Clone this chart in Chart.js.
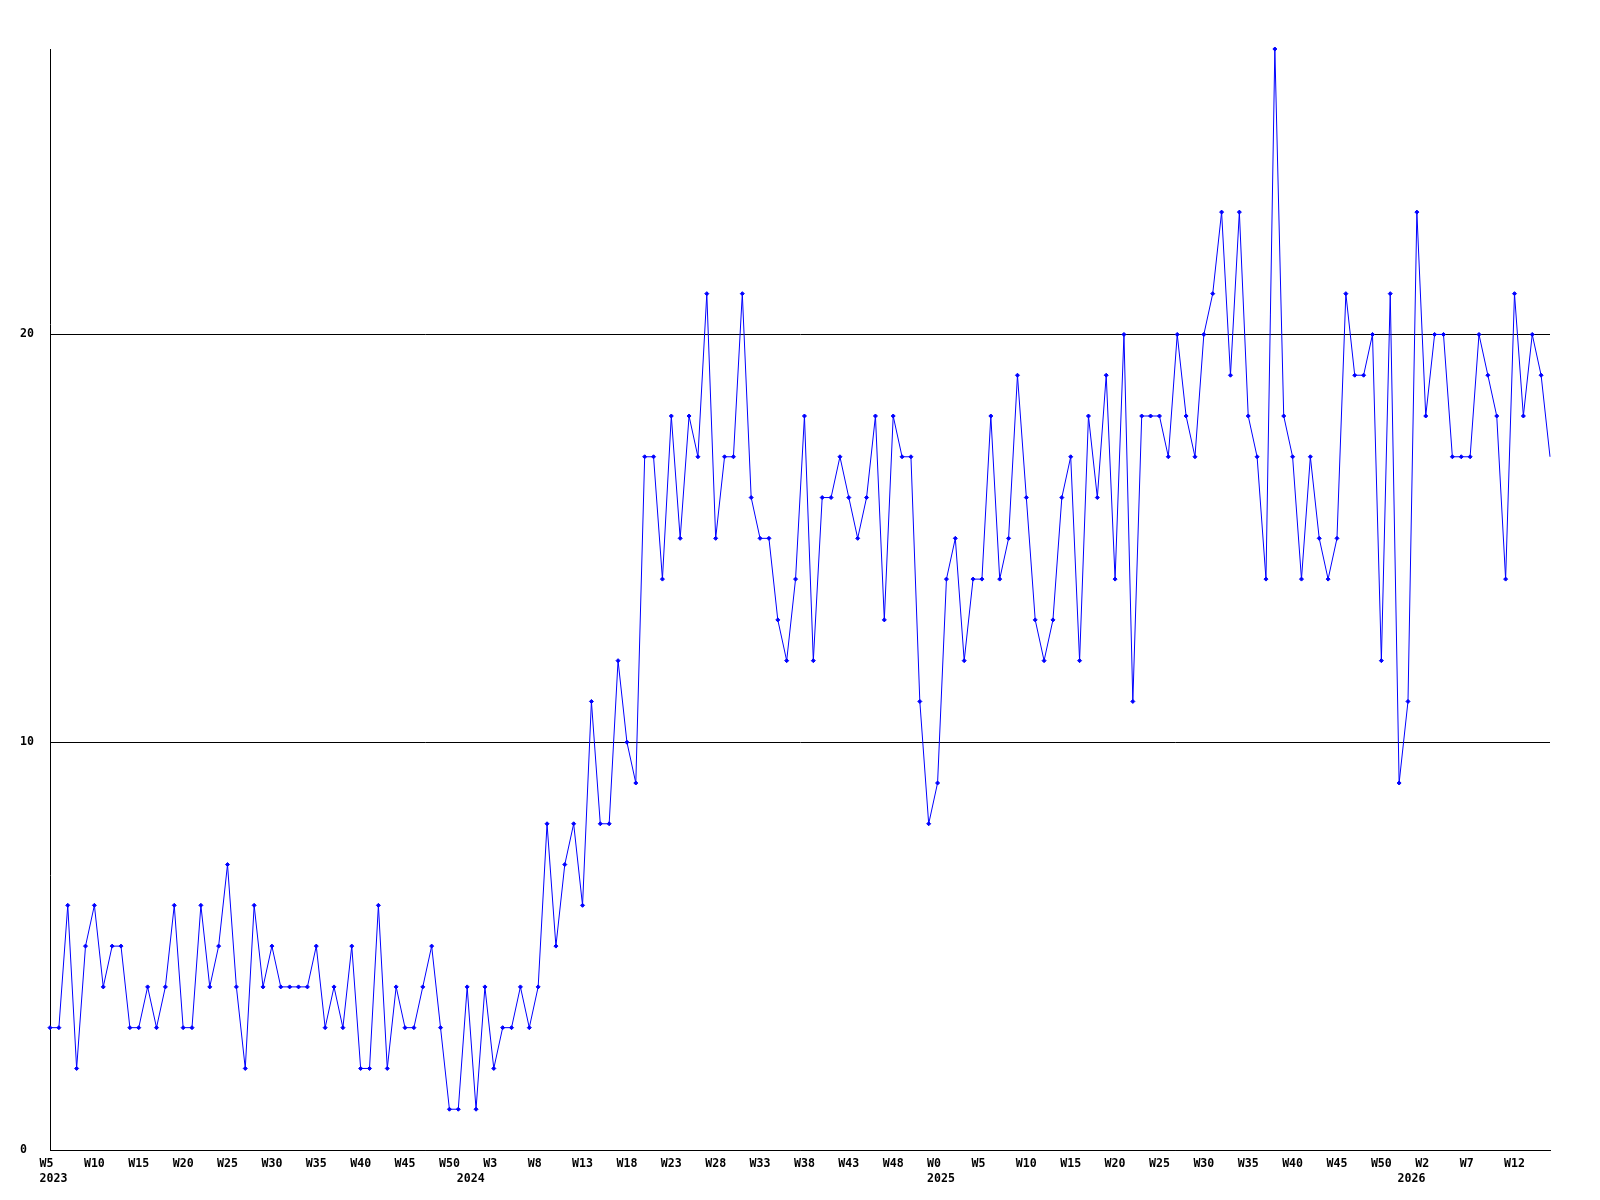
<!DOCTYPE html>
<html>
<head>
<meta charset="utf-8">
<title>Weekly count</title>
<script src="https://cdn.jsdelivr.net/npm/chart.js@4.4.1/dist/chart.umd.min.js"></script>
<style>
  html, body { margin: 0; padding: 0; background: #ffffff; }
  canvas { display: block; }
</style>
</head>
<body>
<canvas id="weekChart" width="1600" height="1200"></canvas>
<script>
// Week labels, one per point
const weeks2023 = ['W5','W6','W7','W8','W9','W10','W11','W12','W13','W14','W15','W16','W17','W18','W19','W20',
  'W21','W22','W23','W24','W25','W26','W27','W28','W29','W30','W31','W32','W33','W34','W35','W36','W37','W38',
  'W39','W40','W41','W42','W43','W44','W45','W46','W47','W48','W49','W50','W51','W52'];
const weeks2024 = ['W1','W2','W3','W4','W5','W6','W7','W8','W9','W10','W11','W12','W13','W14','W15','W16','W17',
  'W18','W19','W20','W21','W22','W23','W24','W25','W26','W27','W28','W29','W30','W31','W32','W33','W34','W35',
  'W36','W37','W38','W39','W40','W41','W42','W43','W44','W45','W46','W47','W48','W49','W50','W51','W52'];
const weeks2025 = ['W0','W1','W2','W3','W4','W5','W6','W7','W8','W9','W10','W11','W12','W13','W14','W15','W16',
  'W17','W18','W19','W20','W21','W22','W23','W24','W25','W26','W27','W28','W29','W30','W31','W32','W33','W34',
  'W35','W36','W37','W38','W39','W40','W41','W42','W43','W44','W45','W46','W47','W48','W49','W50','W51','W52'];
const weeks2026 = ['W0','W1','W2','W3','W4','W5','W6','W7','W8','W9','W10','W11','W12','W13','W14','W15','W16'];
const weeks = [].concat(weeks2023, weeks2024, weeks2025, weeks2026);

// Year captions and the tick they sit under
const years = ['2023', '2024', '2025', '2026'];
const yearAt = [0, 47, 100, 153];

// Weekly values
const counts = [
  3,3,6,2,5,6,4,5,5,3, 3,4,3,4,6,3,3,6,4,5, 7,4,2,6,4,5,4,4,4,4,
  5,3,4,3,5,2,2,6,2,4, 3,3,4,5,3,1,1,4,1,4, 2,3,3,4,3,4,8,5,7,8,
  6,11,8,8,12,10,9,17,17,14, 18,15,18,17,21,15,17,17,21,16, 15,15,13,12,14,18,12,16,16,17,
  16,15,16,18,13,18,17,17,11,8, 9,14,15,12,14,14,18,14,15,19, 16,13,12,13,16,17,12,18,16,19,
  14,20,11,18,18,18,17,20,18,17, 20,21,23,19,23,18,17,14,27,18, 17,14,17,15,14,15,21,19,19,20,
  12,21,9,11,23,18,20,20,17,17, 17,20,19,18,14,21,18,20,19,17
];

const yTicks = [0, 10, 20];
const yMax = 27;

const monoFont = { family: '"DejaVu Sans Mono", "Liberation Mono", monospace', size: 11.6, weight: 'bold', lineHeight: '15px' };

const ctx = document.getElementById('weekChart').getContext('2d');
new Chart(ctx, {
  type: 'line',
  data: {
    labels: weeks,
    datasets: [{
      data: counts,
      borderColor: '#0000ff',
      borderWidth: 1,
      tension: 0,
      fill: false,
      clip: false,
      pointStyle: 'rectRot',
      pointRadius: (c) => c.dataIndex === counts.length - 1 ? 0 : 2,
      pointBorderWidth: 1,
      pointBackgroundColor: '#0000ff',
      pointBorderColor: '#0000ff'
    }]
  },
  options: {
    responsive: false,
    animation: false,
    events: [],
    layout: { padding: { left: 20, right: 50, top: 49, bottom: 0 } },
    plugins: { legend: { display: false }, tooltip: { enabled: false } },
    scales: {
      x: {
        type: 'category',
        offset: false,
        grid: { display: false },
        border: { display: true, color: '#000000', width: 1 },
        ticks: {
          autoSkip: false,
          maxRotation: 0,
          minRotation: 0,
          padding: -2,
          color: '#000000',
          font: monoFont,
          callback: (v, i) => {
            const line = i % 5 === 0 ? weeks[i].padEnd(3) : '';
            const y = yearAt.indexOf(i);
            return y >= 0 ? [line, ' ' + years[y]] : line;
          }
        },
        afterFit: (s) => { s.height = 50; }
      },
      y: {
        min: 0,
        max: yMax,
        grid: { color: '#000000', lineWidth: 1, drawTicks: false },
        border: { display: true, color: '#000000', width: 1 },
        afterBuildTicks: (s) => { s.ticks = yTicks.map(v => ({ value: v })); },
        ticks: {
          crossAlign: 'far',
          color: '#000000',
          font: monoFont
        },
        afterFit: (s) => { s.width = 30; }
      }
    }
  }
});
</script>
</body>
</html>
